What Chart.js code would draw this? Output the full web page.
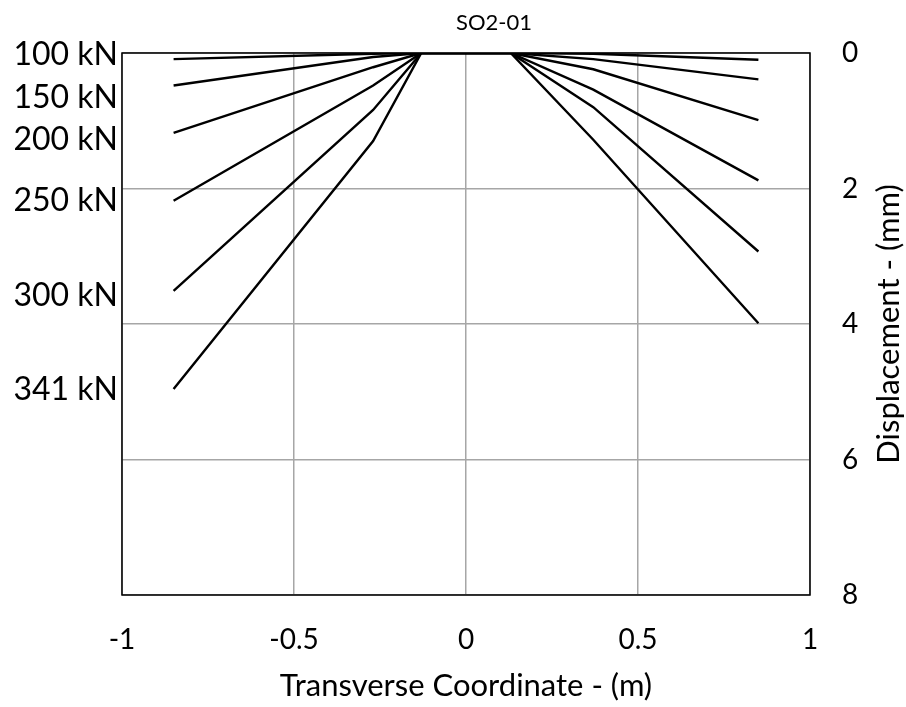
<!DOCTYPE html>
<html>
<head>
<meta charset="utf-8">
<script src="https://cdn.jsdelivr.net/npm/chart.js@4/dist/chart.umd.min.js"></script>
<style>
  html, body { margin: 0; padding: 0; background: #ffffff; }
  #wrap { width: 906px; height: 707px; }
</style>
</head>
<body>
<div id="wrap"><canvas id="chart" width="906" height="707"></canvas></div>
<script>
// Transverse gauge positions (m)
const gaugeX = [-0.85, -0.27, -0.13, 0.13, 0.37, 0.85];

// Load steps and the measured displacement profile (mm) at each gauge
const loadLabels = ['100 kN', '150 kN', '200 kN', '250 kN', '300 kN', '341 kN'];
const disp100 = [0.09, 0.01, 0, 0, 0.01, 0.10];
const disp150 = [0.48, 0.06, 0, 0, 0.09, 0.39];
const disp200 = [1.18, 0.21, 0, 0, 0.24, 0.99];
const disp250 = [2.18, 0.48, 0, 0, 0.54, 1.88];
const disp300 = [3.51, 0.84, 0, 0, 0.80, 2.93];
const disp341 = [4.96, 1.30, 0, 0, 1.28, 3.99];
const profiles = [disp100, disp150, disp200, disp250, disp300, disp341];

// Axis ticks
const xTicks = [-1, -0.5, 0, 0.5, 1];
const yTicks = [0, 2, 4, 6, 8];

const FONT = 'Lato, "Open Sans", sans-serif';

const datasets = profiles.map((vals, i) => ({
  label: loadLabels[i],
  data: gaugeX.map((x, j) => ({ x: x, y: vals[j] })),
  showLine: true,
  borderColor: '#000000',
  borderWidth: 2.4,
  pointRadius: 0,
  tension: 0,
  fill: false
}));

// Vertical nudges (px) so the load labels do not collide
const labelNudge = [-4, 12, 7, 0, 5, 1];

const annotate = {
  id: 'annotate',
  afterDatasetsDraw(chart) {
    const { ctx, chartArea: a, scales } = chart;
    ctx.save();
    // plot frame
    ctx.strokeStyle = '#000000';
    ctx.lineWidth = 1.5;
    ctx.strokeRect(a.left, a.top, a.right - a.left, a.bottom - a.top);

    // load-step labels beside the left ends of the profiles
    ctx.fillStyle = '#000000';
    ctx.font = '32px ' + FONT;
    ctx.textAlign = 'right';
    ctx.textBaseline = 'middle';
    profiles.forEach((vals, i) => {
      const y = scales.y.getPixelForValue(vals[0]) + labelNudge[i];
      ctx.fillText(loadLabels[i], a.left - 4, y);
    });

    // chart title
    ctx.font = '22px ' + FONT;
    ctx.textAlign = 'center';
    ctx.fillText('SO2-01', 494, 23);

    // vertical axis title, reading upward
    ctx.font = '31px ' + FONT;
    ctx.translate(889, (a.top + a.bottom) / 2);
    ctx.rotate(-Math.PI / 2);
    ctx.fillText('Displacement - (mm)', 0, 0);
    ctx.restore();
  }
};

new Chart(document.getElementById('chart'), {
  type: 'scatter',
  data: { datasets: datasets },
  options: {
    responsive: false,
    animation: false,
    layout: { padding: { left: 122, top: 53, right: 0, bottom: 0 } },
    plugins: {
      legend: { display: false },
      title: { display: false },
      tooltip: { enabled: false }
    },
    scales: {
      x: {
        type: 'linear',
        min: xTicks[0],
        max: xTicks[xTicks.length - 1],
        afterBuildTicks(s) { s.ticks = xTicks.map(v => ({ value: v })); },
        ticks: {
          color: '#000000',
          font: { family: FONT, size: 28 },
          padding: 28,
          callback: v => String(v)
        },
        grid: { color: '#a6a6a6', lineWidth: 1.5, drawTicks: false },
        border: { display: false },
        title: {
          display: true,
          text: 'Transverse Coordinate - (m)',
          color: '#000000',
          font: { family: FONT, size: 31 },
          padding: { top: 0, bottom: 2 }
        },
        afterFit(s) { s.height = 112; }
      },
      y: {
        type: 'linear',
        position: 'right',
        reverse: true,
        min: yTicks[0],
        max: yTicks[yTicks.length - 1],
        afterBuildTicks(s) { s.ticks = yTicks.map(v => ({ value: v })); },
        ticks: { color: '#000000', font: { family: FONT, size: 28 }, padding: 32 },
        grid: { color: '#a6a6a6', lineWidth: 1.5, drawTicks: false },
        border: { display: false },
        afterFit(s) { s.width = 96; }
      }
    }
  },
  plugins: [annotate]
});
</script>
</body>
</html>
